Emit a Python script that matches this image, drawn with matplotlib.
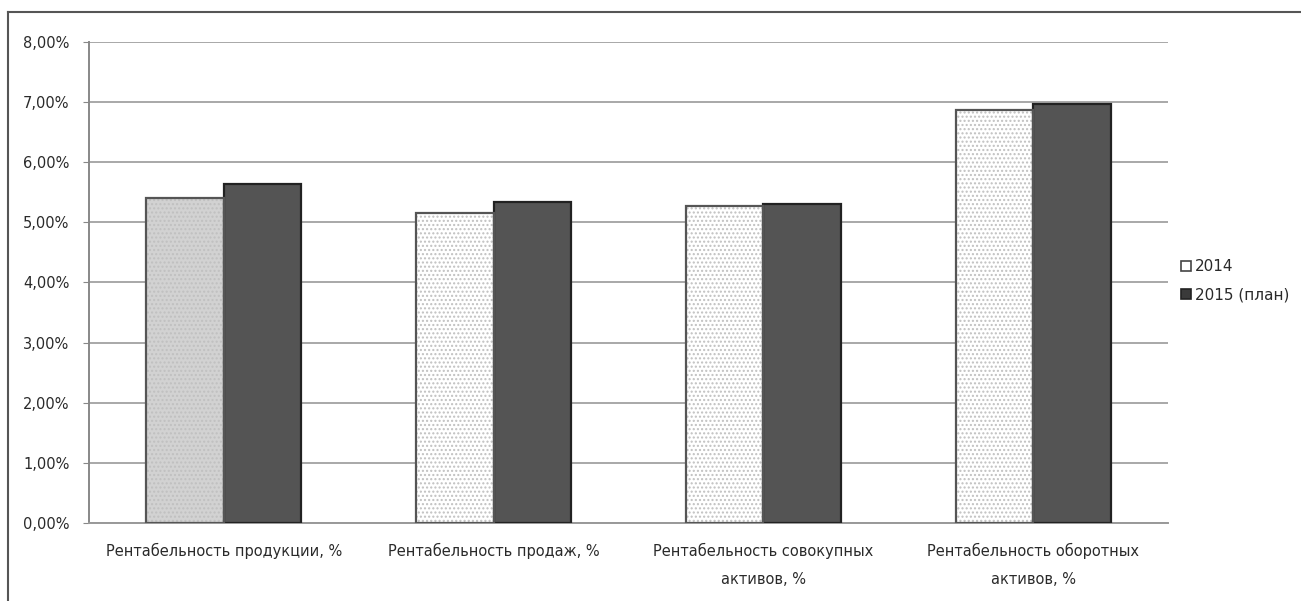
import matplotlib
matplotlib.use("Agg")
import matplotlib.pyplot as plt
import numpy as np
from matplotlib.ticker import FuncFormatter
from matplotlib.patches import Patch
from matplotlib.lines import Line2D

plt.rcParams['font.family'] = ['DejaVu Sans']
plt.rcParams['hatch.linewidth'] = 1.0

categories = [
    "Рентабельность продукции, %",
    "Рентабельность продаж, %",
    "Рентабельность совокупных\nактивов, %",
    "Рентабельность оборотных\nактивов, %",
]
series_names = ["2014", "2015 (план)"]
values_2014 = [5.41, 5.15, 5.28, 6.87]
values_2015 = [5.64, 5.34, 5.31, 6.97]
y_ticks = [0, 1, 2, 3, 4, 5, 6, 7, 8]

fig = plt.figure(figsize=(13.01, 6.01), dpi=100)
ax = fig.add_axes([0.0684, 0.1298, 0.8294, 0.8004])

x = np.arange(len(categories))
w = 0.287

# 2014: light stippled fill (hatch colour comes from the edge colour)
fills = ["#d2d2d2", "white", "white", "white"]
ax.bar(x - w / 2, values_2014, width=w, color=fills,
       edgecolor="#c0c0c0", linewidth=0, hatch="....", zorder=3)
ax.bar(x - w / 2, values_2014, width=w, facecolor="none",
       edgecolor="#555555", linewidth=1.6, zorder=4)
# 2015 (plan): dark solid bars
ax.bar(x + w / 2, values_2015, width=w, facecolor="#545454", edgecolor="#222222",
       linewidth=1.6, zorder=3)

ax.set_xlim(-0.5, len(categories) - 0.5)
ax.set_ylim(0, 8)
ax.set_yticks(y_ticks)
ax.yaxis.set_major_formatter(FuncFormatter(lambda v, p: f"{v:.2f}%".replace(".", ",")))
ax.yaxis.grid(True, color="#9a9a9a", linewidth=1.2, zorder=0)
ax.set_axisbelow(True)

ax.set_xticks(x)
ax.set_xticklabels(categories, fontsize=10.5, color="#2a2a2a", linespacing=2.1)
ax.tick_params(axis="x", length=0, pad=14)
ax.tick_params(axis="y", labelsize=10.5, labelcolor="#2a2a2a", length=4,
               direction="out", color="#888888", pad=10)

for s in ["top", "right"]:
    ax.spines[s].set_visible(False)
ax.spines["left"].set_color("#888888")
ax.spines["left"].set_linewidth(1.4)
ax.spines["bottom"].set_color("#999999")
ax.spines["bottom"].set_linewidth(1.4)

handles = [
    Patch(facecolor="white", edgecolor="#444444", linewidth=1.2),
    Patch(facecolor="#3a3a3a", edgecolor="#222222", linewidth=1.2),
]
fig.legend(handles, series_names, loc="center left",
           bbox_to_anchor=(0.897, 0.533), frameon=False, fontsize=11,
           handlelength=0.65, handleheight=0.65, handletextpad=0.3,
           labelspacing=0.85, labelcolor="#2a2a2a")

# chart frame (top and left edges)
fig.add_artist(Line2D([0.006, 1.0], [0.98, 0.98], color="#555555", linewidth=1.5))
fig.add_artist(Line2D([0.006, 0.006], [0.0, 0.98], color="#555555", linewidth=1.5))

fig.savefig("out.png", dpi=100, facecolor="white")
